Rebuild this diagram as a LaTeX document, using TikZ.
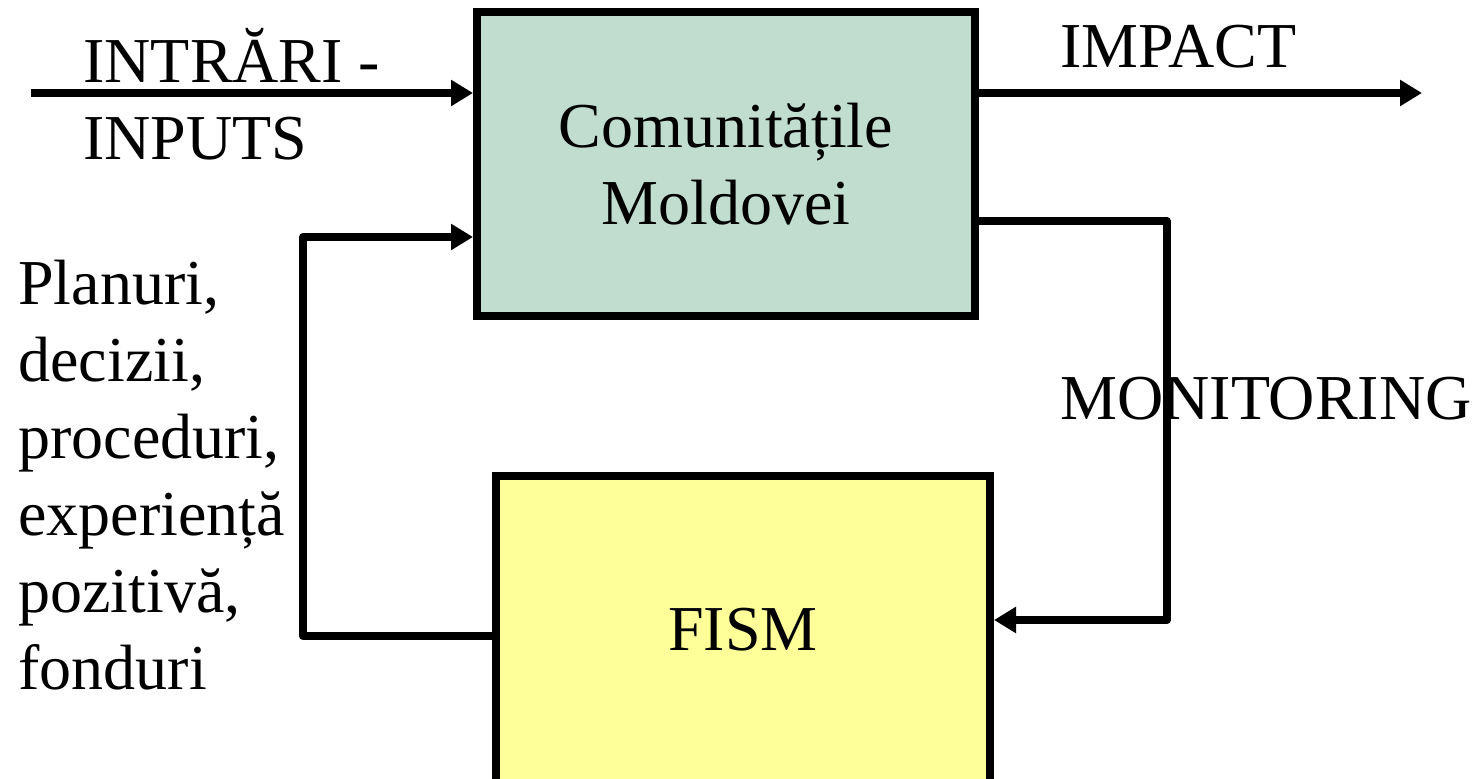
\documentclass[tikz,border=0pt]{standalone}
\usepackage{fontspec}
\setmainfont{Liberation Serif}
\usetikzlibrary{arrows.meta}
\definecolor{boxgreen}{RGB}{192,221,208}
\definecolor{boxyellow}{RGB}{255,255,153}
\tikzset{
  blk/.style={draw=black, line width=4pt, inner sep=0pt, align=center,
    font=\fontsize{32pt}{38.5pt}\selectfont},
  lbl/.style={inner sep=0pt, anchor=base west, align=left,
    font=\fontsize{32pt}{38.5pt}\selectfont},
  flow/.style={line width=4pt, -{Triangle[length=11pt,width=12.5pt]}},
  plain/.style={line width=4pt, line join=round}
}
\begin{document}
\begin{tikzpicture}[x=0.5pt,y=-0.5pt]
\useasboundingbox (0,0) rectangle (1474,779);
\begin{scope}
\clip (0,0) rectangle (1474,779);
\node[blk, fill=boxgreen, minimum width=249pt, minimum height=152pt] (com) at (726,164) {Comunitățile\\Moldovei};
\node[blk, fill=boxyellow, minimum width=247pt, minimum height=154pt] (fism) at (743,630) {FISM};
\end{scope}
\coordinate (inS) at (31,93);
\coordinate (outE) at (1422,93);
\coordinate (fbL) at (303,636);
\coordinate (monR) at (1167,221);
% connectors
\draw[flow] (inS) -- (inS -| com.west);
\draw[flow] (com.east |- outE) -- (outE);
\draw[plain, flow] (fism.west |- fbL) -- (fbL) |- (com.west |- 0,237);
\draw[plain, flow] (com.east |- monR) -- (monR) |- (fism.east |- 0,620);
% labels
\node[lbl] (lin) at (83,160) {INTRĂRI -\\INPUTS};
\node[lbl] (limp) at (1060,68) {IMPACT};
\node[lbl] (lmon) at (1060,420) {MONITORING};
\node[lbl] (lfb) at (18,690) {Planuri,\\decizii,\\proceduri,\\experiență\\pozitivă,\\fonduri};
\end{tikzpicture}
\end{document}
